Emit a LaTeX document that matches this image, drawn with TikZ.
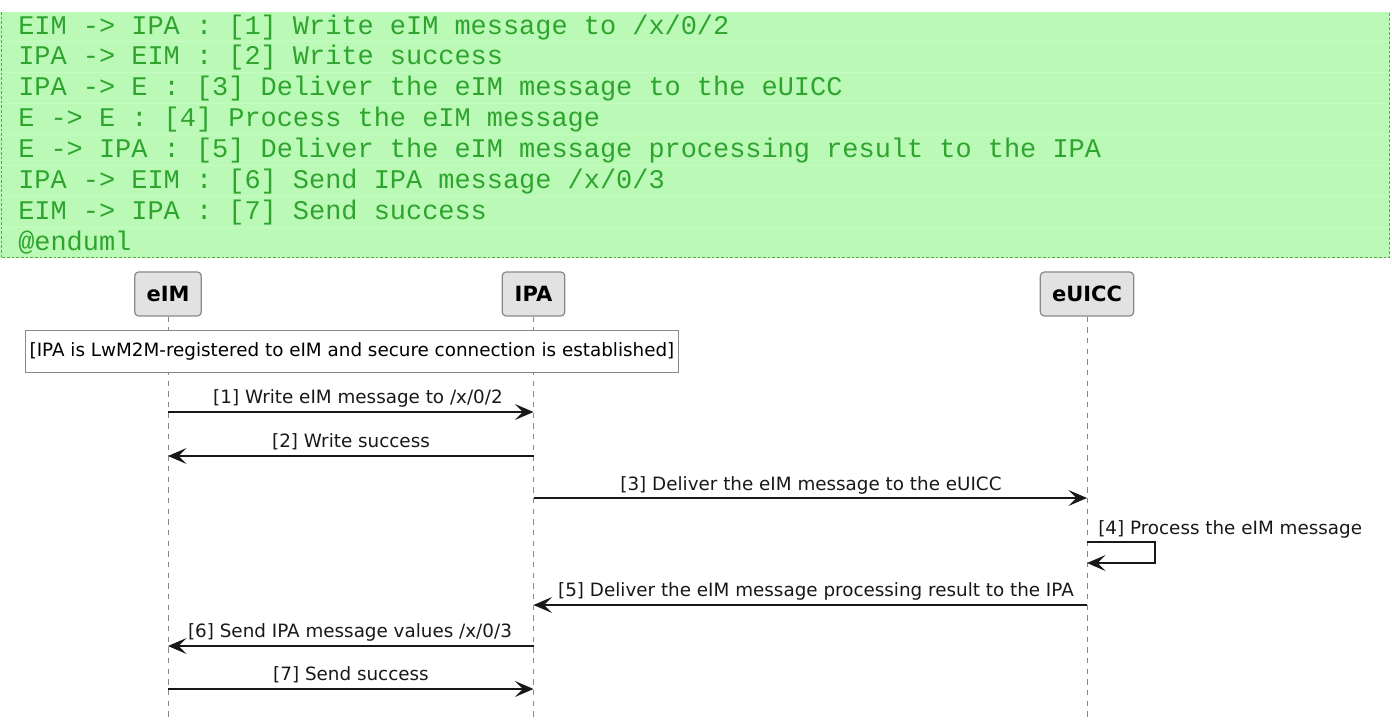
\documentclass[tikz,border=0pt]{standalone}
\usepackage{fontspec}
\setmainfont{DejaVu Sans}
\newfontfamily\codefont{Liberation Mono}
\usetikzlibrary{arrows.meta}
\definecolor{codebg}{RGB}{186,250,182}
\definecolor{codesep}{RGB}{198,252,194}
\definecolor{codefg}{RGB}{46,164,46}
\definecolor{codeborder}{RGB}{90,170,60}
\definecolor{partfill}{RGB}{226,226,226}
\definecolor{partdraw}{RGB}{136,136,136}
\definecolor{msgcol}{RGB}{24,24,24}
\tikzset{
  codeline/.style={anchor=west, inner sep=0pt, font=\codefont\fontsize{20.2pt}{22pt}\selectfont, text=codefg},
  participant/.style={draw=partdraw, fill=partfill, rounded corners=3pt, line width=0.9pt, minimum height=33pt, inner sep=0pt, font=\bfseries\fontsize{15.75pt}{18pt}\selectfont},
  lifeline/.style={draw=partdraw, line width=0.75pt, dash pattern=on 4pt off 4pt},
  notebox/.style={draw=partdraw, fill=white, line width=0.75pt, inner sep=0pt, font=\fontsize{13.75pt}{16pt}\selectfont},
  msg/.style={draw=msgcol, line width=1.1pt, -{Stealth[length=14pt,width=12pt,inset=6pt]}},
  msglabel/.style={inner sep=0pt, font=\fontsize{13.75pt}{16pt}\selectfont, text=msgcol}
}
\begin{document}
\begin{tikzpicture}[x=0.75pt,y=-0.75pt]
\useasboundingbox (0,0) rectangle (1392,720);
% code box
\fill[codebg] (0,12) rectangle (1390,258);
\foreach \yy in {42,73,104,135,166,197,228} \draw[codesep, line width=0.75pt] (0,\yy) -- (1390,\yy);
\draw[codeborder, line width=0.75pt, dash pattern=on 2pt off 1.5pt] (1,12) -- (1,258) -- (1389,258) -- (1389,12);
\node[codeline] (c1) at (18,28) {EIM -> IPA : [1] Write eIM message to /x/0/2};
\node[codeline] (c2) at (18,58) {IPA -> EIM : [2] Write success};
\node[codeline] (c3) at (18,89) {IPA -> E : [3] Deliver the eIM message to the eUICC};
\node[codeline] (c4) at (18,120) {E -> E : [4] Process the eIM message};
\node[codeline] (c5) at (18,151) {E -> IPA : [5] Deliver the eIM message processing result to the IPA};
\node[codeline] (c6) at (18,182) {IPA -> EIM : [6] Send IPA message /x/0/3};
\node[codeline] (c7) at (18,213) {EIM -> IPA : [7] Send success};
\node[codeline] (c8) at (18,243) {@enduml};
% participants
\node[participant, minimum width=50pt] (eim) at (168,294) {eIM};
\node[participant, minimum width=47pt] (ipa) at (533.5,294) {IPA};
\node[participant, minimum width=70pt] (euicc) at (1087,294) {eUICC};
\coordinate (eimend) at (168,720);
\coordinate (ipaend) at (533.5,720);
\coordinate (euiccend) at (1087,720);
\draw[lifeline] (eim.south) -- (eimend);
\draw[lifeline] (ipa.south) -- (ipaend);
\draw[lifeline] (euicc.south) -- (euiccend);
% note
\node[notebox, minimum width=490pt, minimum height=31pt] (note) at (352,351.5) {[IPA is LwM2M-registered to eIM and secure connection is established]};
% message anchors
\coordinate (e1) at (168,412); \coordinate (i1) at (533.5,412);
\coordinate (e2) at (168,456); \coordinate (i2) at (533.5,456);
\coordinate (i3) at (533.5,498); \coordinate (u3) at (1087,498);
\coordinate (u4a) at (1087,542); \coordinate (u4b) at (1087,563);
\coordinate (i5) at (533.5,605); \coordinate (u5) at (1087,605);
\coordinate (e6) at (168,646); \coordinate (i6) at (533.5,646);
\coordinate (e7) at (168,689); \coordinate (i7) at (533.5,689);
% messages
\draw[msg] (e1) -- (i1);
\node[msglabel] (l1) at (358,398) {[1] Write eIM message to /x/0/2};
\draw[msg] (i2) -- (e2);
\node[msglabel] (l2) at (351,442) {[2] Write success};
\draw[msg] (i3) -- (u3);
\node[msglabel] (l3) at (811,485) {[3] Deliver the eIM message to the eUICC};
\draw[msg] (u4a) -- ++(68,0) |- (u4b);
\node[msglabel, anchor=west] (l4) at (1098,529) {[4] Process the eIM message};
\draw[msg] (u5) -- (i5);
\node[msglabel] (l5) at (816,591) {[5] Deliver the eIM message processing result to the IPA};
\draw[msg] (i6) -- (e6);
\node[msglabel] (l6) at (350,632) {[6] Send IPA message values /x/0/3};
\draw[msg] (e7) -- (i7);
\node[msglabel] (l7) at (351,675) {[7] Send success};
\end{tikzpicture}
\end{document}
